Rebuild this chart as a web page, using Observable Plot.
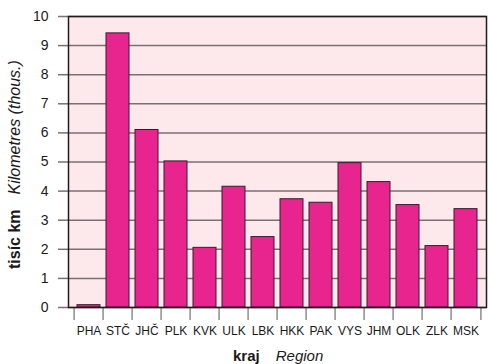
<!DOCTYPE html>
<html><head><meta charset="utf-8">
<script src="https://cdn.jsdelivr.net/npm/d3@7"></script>
<script src="https://cdn.jsdelivr.net/npm/@observablehq/plot@0.6"></script>
<style>
body{margin:0;background:#fff;}
svg{font-family:"Liberation Sans",Arial,Helvetica,sans-serif;}
</style></head>
<body><div id="chart"></div>
<script>
const regions = ["PHA","STČ","JHČ","PLK","KVK","ULK","LBK","HKK","PAK","VYS","JHM","OLK","ZLK","MSK"];
const kilometres = [0.08,9.42,6.1,5.02,2.05,4.15,2.42,3.72,3.6,4.96,4.31,3.52,2.11,3.38];
const yTicks = [0,1,2,3,4,5,6,7,8,9,10];

const data = regions.map((r,i)=>({region:r, km:kilometres[i]}));
const W = 488, H = 364, mL = 68, mR = 2, mT = 16, mB = 57;
const step = (W - mL - mR) / regions.length;

const chart = Plot.plot({
  width: W, height: H,
  marginLeft: mL, marginRight: mR, marginTop: mT, marginBottom: mB,
  style: {fontFamily: '"Liberation Sans",Arial,Helvetica,sans-serif', color: "#1a1a1a", background: "#fff"},
  x: {domain: regions, padding: 0, label: null},
  y: {domain: [0,10], label: null},
  marks: [
    Plot.frame({fill: "#fde8ec", stroke: null}),
    Plot.gridY(yTicks, {stroke: "#7a7074", strokeOpacity: 1, strokeWidth: 1.5}),
    Plot.barY(data, {x: "region", y: "km", fill: "#e8258f", stroke: "#3b1a2c", strokeWidth: 1, insetLeft: 3, insetRight: 3}),
    Plot.axisY(yTicks, {tickSize: 10, tickPadding: 10, stroke: "#7a7074", strokeWidth: 1.5, fontSize: 14, fill: "#1a1a1a", label: null}),
    Plot.axisX({tickSize: 13, text: null, dx: -step/2, stroke: "#555", label: null}),
    Plot.axisX([regions[regions.length-1]], {tickSize: 13, text: null, dx: step/2, stroke: "#555", label: null}),
    Plot.axisX({tickSize: 0, tickPadding: 19, fontSize: 12, fill: "#1a1a1a", label: null}),
    Plot.frame({stroke: "#231a1e", strokeWidth: 1.5, fill: null})
  ]
});
document.getElementById("chart").appendChild(chart);

const svg = d3.select(chart);
const yl = svg.append("text")
  .attr("transform", "translate(20,269) rotate(-90)")
  .attr("text-anchor", "start")
  .attr("font-size", 16).attr("fill", "#1a1a1a");
yl.append("tspan").attr("font-weight", "bold").text("tisíc km");
yl.append("tspan").attr("font-style", "italic").attr("dx", 15).text("Kilometres (thous.)");

const xl = svg.append("text")
  .attr("x", 233).attr("y", 361)
  .attr("text-anchor", "start")
  .attr("font-size", 15).attr("fill", "#1a1a1a");
xl.append("tspan").attr("font-weight", "bold").text("kraj");
xl.append("tspan").attr("font-style", "italic").attr("dx", 16).text("Region");
</script></body></html>
